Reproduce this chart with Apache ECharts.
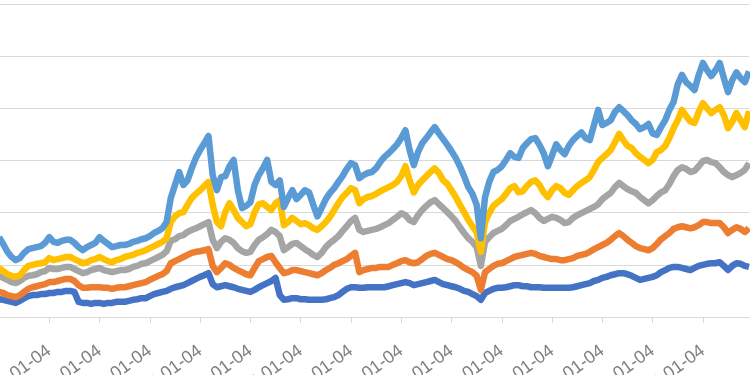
<!DOCTYPE html>
<html>
<head>
<meta charset="utf-8">
<script src="https://cdn.jsdelivr.net/npm/echarts@6/dist/echarts.min.js"></script>
<style>
html,body{margin:0;padding:0;background:#fff;}
#chart{width:750px;height:375px;}
</style>
</head>
<body>
<div id="chart"></div>
<script>
// category labels: first trading day of each month, years shown on axis as YYYY-01-04
var years = [2011,2012,2013,2014,2015,2016,2017,2018,2019,2020,2021,2022,2023,2024,2025];
var monthLabels = ['01','02','03','04','05','06','07','08','09','10','11','12'];
var pointCount = 180;

var seriesNames = ['系列1','系列2','系列3','系列4','系列5'];

var darkBlue = [0.34,0.33,0.31,0.29,0.27,0.31,0.36,0.40,0.42,0.42,
0.44,0.44,0.46,0.46,0.48,0.48,0.50,0.50,0.48,0.29,
0.27,0.27,0.25,0.27,0.27,0.25,0.27,0.27,0.29,0.29,
0.29,0.31,0.33,0.34,0.36,0.36,0.40,0.44,0.46,0.48,
0.50,0.54,0.57,0.59,0.61,0.65,0.69,0.73,0.77,0.80,
0.84,0.63,0.57,0.59,0.61,0.59,0.57,0.54,0.52,0.50,
0.48,0.52,0.57,0.61,0.65,0.69,0.75,0.42,0.33,0.34,
0.36,0.36,0.34,0.34,0.33,0.33,0.33,0.33,0.34,0.36,
0.38,0.42,0.48,0.54,0.57,0.57,0.56,0.56,0.57,0.57,
0.57,0.57,0.57,0.59,0.61,0.63,0.65,0.67,0.65,0.61,
0.63,0.65,0.67,0.69,0.71,0.67,0.63,0.61,0.59,0.57,
0.54,0.50,0.48,0.44,0.40,0.33,0.46,0.50,0.54,0.56,
0.56,0.57,0.59,0.61,0.61,0.59,0.59,0.57,0.57,0.57,
0.56,0.56,0.56,0.56,0.56,0.56,0.56,0.57,0.59,0.61,
0.63,0.65,0.69,0.71,0.75,0.77,0.80,0.82,0.84,0.84,
0.82,0.79,0.75,0.71,0.73,0.75,0.77,0.80,0.86,0.90,
0.94,0.96,0.96,0.94,0.92,0.90,0.94,0.98,1.00,1.02,
1.03,1.03,1.05,0.98,0.90,0.98,1.03,1.02,0.98,0.96];

var orange = [0.48,0.46,0.42,0.40,0.38,0.42,0.48,0.54,0.57,0.59,
0.61,0.63,0.67,0.67,0.69,0.71,0.73,0.73,0.69,0.61,
0.56,0.56,0.57,0.57,0.57,0.56,0.56,0.54,0.56,0.57,
0.57,0.59,0.61,0.63,0.65,0.67,0.71,0.75,0.79,0.82,
0.88,1.03,1.07,1.11,1.15,1.19,1.23,1.25,1.26,1.28,
1.30,0.98,0.86,0.94,1.03,1.00,0.94,0.90,0.86,0.82,
0.80,0.94,1.07,1.11,1.15,1.17,1.05,0.94,0.84,0.86,
0.90,0.90,0.88,0.86,0.84,0.82,0.80,0.84,0.90,0.94,
1.00,1.03,1.07,1.11,1.17,1.23,0.86,0.90,0.92,0.94,
0.94,0.96,0.96,0.96,1.00,1.03,1.07,1.09,1.05,1.03,
1.05,1.11,1.17,1.21,1.23,1.19,1.15,1.11,1.09,1.05,
1.00,0.94,0.90,0.86,0.79,0.52,0.86,0.92,0.98,1.02,
1.03,1.07,1.11,1.15,1.17,1.19,1.21,1.23,1.21,1.17,
1.15,1.13,1.11,1.11,1.09,1.09,1.11,1.13,1.17,1.19,
1.21,1.25,1.30,1.34,1.38,1.42,1.48,1.55,1.61,1.55,
1.48,1.42,1.36,1.32,1.30,1.28,1.32,1.40,1.49,1.55,
1.61,1.69,1.72,1.74,1.72,1.70,1.72,1.76,1.82,1.82,
1.80,1.80,1.80,1.72,1.61,1.67,1.72,1.69,1.63,1.70];

var gray = [0.79,0.75,0.71,0.67,0.65,0.69,0.75,0.79,0.80,0.82,
0.86,0.88,0.94,0.92,0.92,0.94,0.96,0.96,0.92,0.88,
0.84,0.86,0.90,0.92,0.94,0.90,0.88,0.86,0.88,0.90,
0.90,0.92,0.96,0.98,1.02,1.03,1.07,1.11,1.15,1.19,
1.26,1.46,1.49,1.55,1.57,1.63,1.67,1.70,1.74,1.78,
1.82,1.48,1.32,1.44,1.51,1.48,1.42,1.32,1.26,1.23,
1.25,1.38,1.48,1.53,1.59,1.67,1.63,1.55,1.28,1.34,
1.40,1.42,1.36,1.30,1.25,1.19,1.15,1.23,1.34,1.42,
1.48,1.55,1.65,1.74,1.84,1.90,1.67,1.63,1.65,1.67,
1.69,1.72,1.76,1.80,1.86,1.92,1.99,1.95,1.86,1.82,
1.95,2.05,2.13,2.20,2.24,2.16,2.09,2.01,1.93,1.84,
1.72,1.61,1.51,1.44,1.34,0.98,1.44,1.53,1.61,1.65,
1.69,1.76,1.84,1.88,1.92,1.97,2.01,2.05,1.99,1.90,
1.84,1.88,1.92,1.90,1.86,1.80,1.82,1.90,1.95,1.99,
2.03,2.07,2.11,2.16,2.26,2.32,2.38,2.49,2.57,2.51,
2.45,2.41,2.38,2.30,2.24,2.18,2.24,2.32,2.39,2.43,
2.55,2.70,2.82,2.87,2.84,2.78,2.80,2.89,2.99,3.01,
2.97,2.95,2.87,2.78,2.72,2.68,2.72,2.76,2.82,2.95];

var yellow = [0.94,0.88,0.82,0.79,0.77,0.80,0.90,0.98,1.00,1.02,
1.03,1.05,1.13,1.09,1.11,1.13,1.15,1.15,1.11,1.07,
1.03,1.05,1.09,1.11,1.15,1.11,1.07,1.05,1.09,1.11,
1.15,1.17,1.19,1.23,1.25,1.28,1.32,1.36,1.40,1.44,
1.51,1.82,1.93,1.99,2.01,2.15,2.28,2.36,2.43,2.51,
2.59,2.15,1.82,1.74,2.01,2.18,2.05,1.90,1.82,1.74,
1.78,2.01,2.16,2.18,2.11,2.05,2.18,2.24,1.76,1.82,
1.90,1.84,1.78,1.80,1.76,1.70,1.67,1.74,1.82,1.92,
2.05,2.18,2.30,2.38,2.47,2.43,2.18,2.26,2.30,2.32,
2.36,2.41,2.45,2.49,2.53,2.59,2.70,2.89,2.62,2.39,
2.53,2.62,2.70,2.78,2.85,2.76,2.62,2.55,2.43,2.30,
2.15,2.01,1.86,1.74,1.63,1.25,1.82,1.99,2.13,2.20,
2.26,2.36,2.47,2.51,2.39,2.41,2.51,2.59,2.62,2.53,
2.39,2.30,2.43,2.51,2.47,2.38,2.34,2.43,2.51,2.57,
2.62,2.68,2.82,2.97,3.05,3.12,3.20,3.35,3.51,3.39,
3.28,3.24,3.14,3.07,3.01,2.95,3.01,3.16,3.20,3.28,
3.43,3.62,3.77,3.97,3.85,3.75,3.72,3.93,4.10,4.00,
3.91,3.97,4.02,3.87,3.62,3.74,3.91,3.77,3.64,3.95];

var lightBlue = [1.53,1.40,1.25,1.15,1.09,1.13,1.23,1.30,1.32,1.34,
1.36,1.42,1.53,1.44,1.42,1.46,1.48,1.48,1.42,1.34,
1.28,1.34,1.38,1.42,1.53,1.46,1.40,1.34,1.36,1.38,
1.38,1.40,1.44,1.46,1.49,1.51,1.55,1.61,1.65,1.70,
1.82,2.28,2.53,2.78,2.53,2.62,2.85,3.05,3.20,3.33,
3.47,2.72,2.43,2.68,2.70,2.89,3.01,2.43,2.09,2.13,
2.20,2.53,2.72,2.85,3.01,2.59,2.53,2.62,2.11,2.28,
2.43,2.26,2.34,2.43,2.39,2.15,1.93,2.09,2.26,2.38,
2.47,2.59,2.70,2.84,2.95,2.91,2.66,2.72,2.76,2.78,
2.85,2.97,3.07,3.14,3.22,3.31,3.43,3.58,3.20,2.91,
3.16,3.33,3.43,3.54,3.64,3.52,3.41,3.30,3.18,3.05,
2.89,2.70,2.49,2.36,2.15,1.51,2.30,2.59,2.78,2.82,
2.89,3.01,3.14,3.07,3.05,3.24,3.33,3.41,3.43,3.30,
3.14,2.89,3.10,3.31,3.20,3.12,3.28,3.39,3.47,3.54,
3.43,3.39,3.68,3.97,3.68,3.72,3.77,3.93,4.02,3.95,
3.87,3.77,3.70,3.60,3.64,3.70,3.52,3.49,3.64,3.77,
3.97,4.12,4.46,4.64,4.50,4.43,4.35,4.64,4.87,4.73,
4.62,4.73,4.87,4.58,4.31,4.54,4.69,4.58,4.50,4.71];

var categories = [];
for (var yi = 0; yi < years.length; yi++) {
  for (var mi = 0; mi < monthLabels.length; mi++) {
    if (categories.length < pointCount) categories.push(years[yi] + '-' + monthLabels[mi] + '-04');
  }
}

var colors = ['#4472C4', '#ED7D31', '#A5A5A5', '#FFC000', '#5B9BD5'];
var allData = [darkBlue, orange, gray, yellow, lightBlue];

var chart = echarts.init(document.getElementById('chart'), null, {renderer: 'canvas'});
chart.setOption({
  animation: false,
  backgroundColor: '#ffffff',
  grid: {left: -1, right: 1, top: 4, bottom: 58, containLabel: false, outerBoundsMode: 'none'},
  xAxis: {
    type: 'category',
    data: categories,
    boundaryGap: false,
    axisLine: {lineStyle: {color: '#d9d9d9', width: 1}},
    axisTick: {show: true, interval: 11, length: 6, lineStyle: {color: '#d9d9d9'}},
    axisLabel: {
      interval: 11, rotate: 36, margin: 32, color: '#7f7f7f',
      fontSize: 18, fontFamily: 'Liberation Sans, Arial, sans-serif'
    },
    splitLine: {show: false}
  },
  yAxis: {
    type: 'value', min: 0, max: 6, interval: 1,
    axisLine: {show: false}, axisTick: {show: false},
    axisLabel: {show: false},
    splitLine: {lineStyle: {color: '#d9d9d9', width: 1}}
  },
  series: allData.map(function (d, i) {
    return {
      name: seriesNames[i], type: 'line', data: d,
      showSymbol: false, symbol: 'none',
      lineStyle: {width: 6.5, color: colors[i], join: 'round'},
      itemStyle: {color: colors[i]}
    };
  })
});
</script>
</body>
</html>
